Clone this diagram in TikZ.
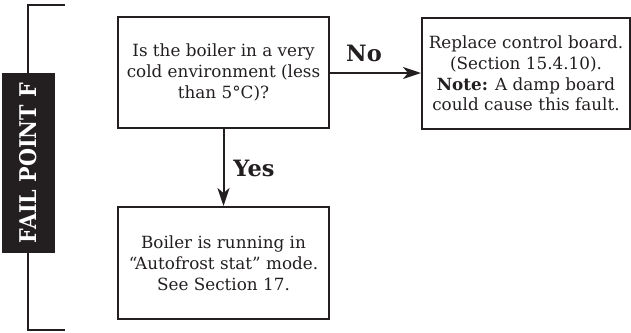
\documentclass[tikz,border=0pt]{standalone}
\usepackage{fontspec}
\setmainfont{DejaVu Serif}
\newfontfamily\condfont{DejaVu Serif Condensed}
\usetikzlibrary{arrows.meta}
\definecolor{ink}{HTML}{231F20}
\tikzset{
  flowbox/.style={draw=ink, line width=2pt, text=ink, align=center,
    inner sep=0pt, font=\fontsize{16.8}{20.8}\selectfont},
  flowarrow/.style={draw=ink, line width=2pt, -{Stealth[length=18pt,width=12pt,inset=5pt]}},
  answer/.style={text=ink, font=\bfseries\fontsize{22.5}{24}\selectfont, inner sep=0pt},
}
\begin{document}
\begin{tikzpicture}[x=1pt,y=-1pt]
\useasboundingbox (0,0) rectangle (631,332);
% bracket
\coordinate (bt) at (65,5);
\coordinate (btc) at (28,5);
\coordinate (bbc) at (28,330);
\coordinate (bb) at (65,330);
\draw[ink, line width=2pt] (bt) -- (btc) -- (bbc) -- (bb);
\node[fill=ink, minimum width=180pt, minimum height=53pt, inner sep=0pt,
  text=white, font=\condfont\bfseries\fontsize{23}{25}\selectfont, rotate=90]
  (fp) at (28.5,163) {FAIL POINT F};
% boxes
\node[flowbox, minimum width=211pt, minimum height=111pt] (q) at (223.5,72.5)
  {Is the boiler in a very\\cold environment (less\\than 5°C)?};
\node[flowbox, minimum width=208pt, minimum height=111pt] (r) at (526,73.5)
  {Replace control board.\\(Section 15.4.10).\\\textbf{Note:} A damp board\\could cause this fault.};
\node[flowbox, minimum width=211pt, minimum height=112pt] (b) at (223.5,263)
  {Boiler is running in\\“Autofrost stat” mode.\\See Section 17.};
% arrows
\draw[flowarrow] (q.east |- 0,73) -- (r.west |- 0,73);
\draw[flowarrow] (q.south) -- (b.north);
\node[answer] (no) at (364,53) {No};
\node[answer] (yes) at (254,168) {Yes};
\end{tikzpicture}
\end{document}
